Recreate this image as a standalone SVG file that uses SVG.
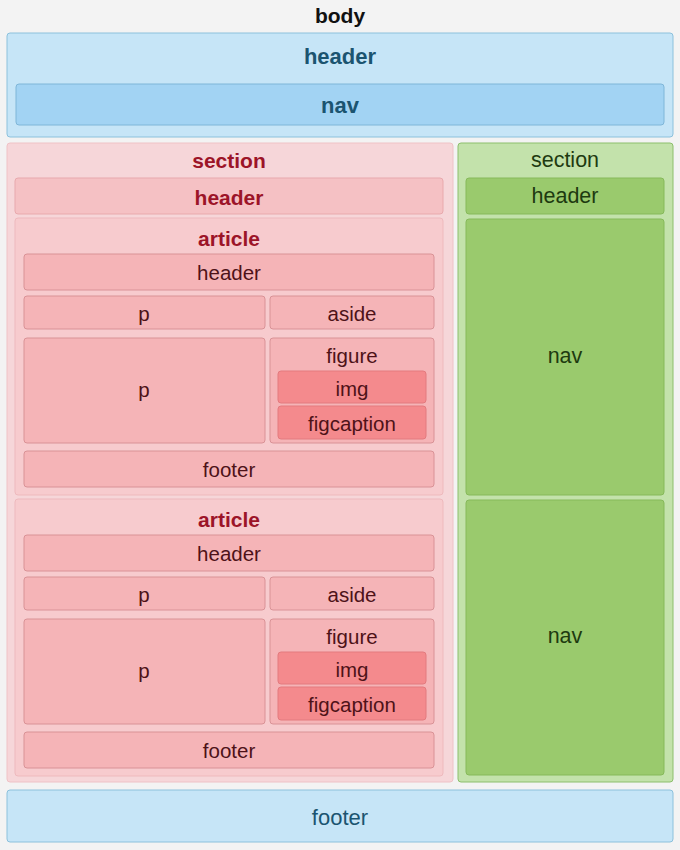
<svg xmlns="http://www.w3.org/2000/svg" width="680" height="850" viewBox="0 0 680 850">
<style>
text{font-family:"Liberation Sans",Arial,sans-serif;text-anchor:middle;dominant-baseline:central}
.blue{fill:#c6e5f7;stroke:#8cc1dc;stroke-width:1}
.bnav{fill:#a2d3f3;stroke:#7fb6d8;stroke-width:1}
.tb{fill:#1b5470;font-size:22px;font-weight:bold}
.tbn{fill:#1b5470;font-size:22px}
.sec{fill:#f6d6d9;stroke:#efc2c6;stroke-width:1}
.art{fill:#f7cbce;stroke:#eeb9bd;stroke-width:1}
.hd{fill:#f5c1c4;stroke:#e8a9ad;stroke-width:1}
.bx{fill:#f5b4b7;stroke:#d99296;stroke-width:1}
.im{fill:#f48a8d;stroke:#e37a7e;stroke-width:1}
.tr{fill:#9c1428;font-size:21px;font-weight:bold}
.td{fill:#4e1218;font-size:20.5px}
.gsec{fill:#c3e2ab;stroke:#8cbf6c;stroke-width:1}
.gbx{fill:#9aca6d;stroke:#86b95a;stroke-width:1}
.tg{fill:#1e3a10;font-size:21.5px}
</style>
<rect x="0" y="0" width="680" height="850" fill="#f3f3f3"/>
<text x="340" y="15" font-size="21" font-weight="bold" fill="#111">body</text>

<g id="top-header">
<rect class="blue" x="7" y="33" width="666" height="104" rx="3"/>
<text class="tb" x="340" y="56">header</text>
</g>
<g id="top-nav">
<rect class="bnav" x="16" y="84" width="648" height="41" rx="3"/>
<text class="tb" x="340" y="105">nav</text>
</g>

<g id="section-left">
<rect class="sec" x="7" y="143" width="446" height="639" rx="3"/>
<text class="tr" x="229" y="160">section</text>
</g>
<g id="section-left-header">
<rect class="hd" x="15" y="178" width="428" height="36" rx="3"/>
<text class="tr" x="229" y="197">header</text>
</g>

<g id="article1">
<rect class="art" x="15" y="218" width="428" height="277" rx="3"/>
<text class="tr" x="229" y="238">article</text>
</g>
<g id="a1-header"><rect class="bx" x="24" y="254" width="410" height="36" rx="3"/><text class="td" x="229" y="272">header</text></g>
<g id="a1-p1"><rect class="bx" x="24" y="296" width="241" height="33" rx="3"/><text class="td" x="144" y="313">p</text></g>
<g id="a1-aside"><rect class="bx" x="270" y="296" width="164" height="33" rx="3"/><text class="td" x="352" y="313">aside</text></g>
<g id="a1-p2"><rect class="bx" x="24" y="338" width="241" height="105" rx="3"/><text class="td" x="144" y="389">p</text></g>
<g id="a1-figure"><rect class="bx" x="270" y="338" width="164" height="105" rx="3"/><text class="td" x="352" y="355">figure</text></g>
<g id="a1-img"><rect class="im" x="278" y="371" width="148" height="32" rx="3"/><text class="td" x="352" y="388">img</text></g>
<g id="a1-figcaption"><rect class="im" x="278" y="406" width="148" height="33" rx="3"/><text class="td" x="352" y="423">figcaption</text></g>
<g id="a1-footer"><rect class="bx" x="24" y="451" width="410" height="36" rx="3"/><text class="td" x="229" y="469">footer</text></g>

<g id="article2">
<rect class="art" x="15" y="499" width="428" height="277" rx="3"/>
<text class="tr" x="229" y="519">article</text>
</g>
<g id="a2-header"><rect class="bx" x="24" y="535" width="410" height="36" rx="3"/><text class="td" x="229" y="553">header</text></g>
<g id="a2-p1"><rect class="bx" x="24" y="577" width="241" height="33" rx="3"/><text class="td" x="144" y="594">p</text></g>
<g id="a2-aside"><rect class="bx" x="270" y="577" width="164" height="33" rx="3"/><text class="td" x="352" y="594">aside</text></g>
<g id="a2-p2"><rect class="bx" x="24" y="619" width="241" height="105" rx="3"/><text class="td" x="144" y="670">p</text></g>
<g id="a2-figure"><rect class="bx" x="270" y="619" width="164" height="105" rx="3"/><text class="td" x="352" y="636">figure</text></g>
<g id="a2-img"><rect class="im" x="278" y="652" width="148" height="32" rx="3"/><text class="td" x="352" y="669">img</text></g>
<g id="a2-figcaption"><rect class="im" x="278" y="687" width="148" height="33" rx="3"/><text class="td" x="352" y="704">figcaption</text></g>
<g id="a2-footer"><rect class="bx" x="24" y="732" width="410" height="36" rx="3"/><text class="td" x="229" y="750">footer</text></g>

<g id="section-right">
<rect class="gsec" x="458" y="143" width="215" height="639" rx="3"/>
<text class="tg" x="565" y="160">section</text>
</g>
<g id="sr-header"><rect class="gbx" x="466" y="178" width="198" height="36" rx="3"/><text class="tg" x="565" y="196">header</text></g>
<g id="sr-nav1"><rect class="gbx" x="466" y="219" width="198" height="276" rx="3"/><text class="tg" x="565" y="356">nav</text></g>
<g id="sr-nav2"><rect class="gbx" x="466" y="500" width="198" height="275" rx="3"/><text class="tg" x="565" y="636">nav</text></g>

<g id="bottom-footer">
<rect class="blue" x="7" y="790" width="666" height="52" rx="3"/>
<text class="tbn" x="340" y="817">footer</text>
</g>
<g id="connectors"></g>
</svg>
